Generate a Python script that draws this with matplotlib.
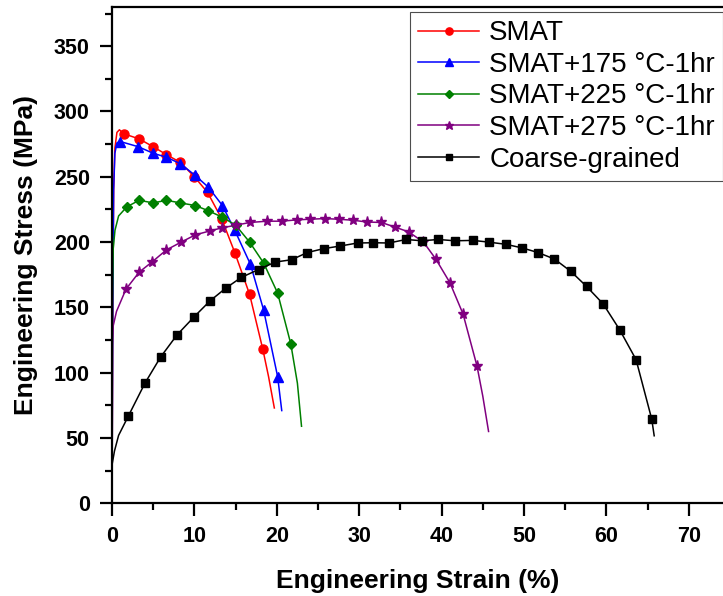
import matplotlib
matplotlib.use("Agg")
import matplotlib.pyplot as plt

plt.rcParams['font.family'] = ['Liberation Sans', 'DejaVu Sans']

# SMAT
smat_strain = [0, 0.1, 0.2, 0.35, 0.6, 0.9, 1.4, 3.3, 5.0, 6.6, 8.3, 10.0, 11.6, 13.3, 14.9, 16.7, 18.3, 19.0, 19.7]
smat_stress = [0, 150, 240, 272, 284, 286, 283, 279, 273, 267, 261, 250, 238, 218, 192, 160, 118, 97, 73]

# SMAT + 175 C
s175_strain = [0, 0.1, 0.2, 0.35, 0.6, 1.0, 3.2, 5.0, 6.6, 8.3, 10.1, 11.7, 13.4, 14.9, 16.8, 18.4, 20.1, 20.6]
s175_stress = [0, 150, 240, 268, 276, 277, 273, 268, 265, 260, 251, 242, 228, 209, 183, 148, 97, 71]

# SMAT + 225 C
s225_strain = [0, 0.05, 0.15, 0.36, 0.8, 1.8, 3.3, 5.0, 6.6, 8.3, 10.1, 11.7, 13.4, 15.0, 16.7, 18.4, 20.1, 21.7, 22.5, 23.0]
s225_stress = [0, 150, 195, 209, 220, 227, 232, 230, 232, 230, 228, 224, 219, 213, 200, 184, 161, 122, 92, 59]

# SMAT + 275 C
s275_strain = [0, 0.03, 0.15, 0.55, 1.7, 3.3, 4.9, 6.6, 8.4, 10.1, 11.9, 13.4, 15.1, 16.7, 18.8, 20.6, 22.4, 24.0,
               25.8, 27.5, 29.3, 30.9, 32.7, 34.3, 36.0, 37.8, 39.3, 41.0, 42.6, 44.3, 45.0, 45.7]
s275_stress = [0, 122, 136, 147, 164, 177, 185, 194, 200, 205.5, 208.6, 211, 213, 215, 216, 216, 217, 217.5,
               218, 217.5, 216.7, 215.4, 215, 211.6, 207.8, 200, 187, 169, 145, 105, 82, 55]

# coarse-grained
cg_strain = [0, 0.02, 0.3, 0.8, 2.0, 4.0, 5.9, 7.9, 10.0, 11.9, 13.8, 15.7, 17.8, 19.8, 21.8, 23.7, 25.7, 27.7,
             29.8, 31.7, 33.6, 35.7, 37.6, 39.6, 41.6, 43.8, 45.7, 47.8, 49.8, 51.7, 53.7, 55.7, 57.6, 59.6,
             61.6, 63.6, 65.5, 65.8]
cg_stress = [0, 30, 40, 52, 67, 92, 112, 129, 143, 155, 164.7, 173, 179, 184.7, 186.5, 192, 195, 197,
             199.3, 199.5, 199.3, 202, 201, 202, 201, 201.3, 200, 198.3, 195.5, 192, 187, 177.5, 166, 152.7,
             133, 110, 64.5, 51.7]

labels = ["SMAT", "SMAT+175 °C-1hr", "SMAT+225 °C-1hr", "SMAT+275 °C-1hr", "Coarse-grained"]

fig = plt.figure(figsize=(7.23, 5.96), dpi=100)
ax = fig.add_axes([112/723, 1-503.3/596, (723-112)/723, (503.3-7)/596])

# (x, y, color, marker, size, first marked point, last marked point)
series = [
    (smat_strain, smat_stress, "#ff0000", "o", 6.5, 6, 16),
    (s175_strain, s175_stress, "#0000ff", "^", 7, 5, 16),
    (s225_strain, s225_stress, "#008000", "D", 5.5, 5, 17),
    (s275_strain, s275_stress, "#800080", "*", 8, 4, 29),
    (cg_strain, cg_stress, "#000000", "s", 6, 4, 36),
]

for (x, y, c, m, ms, i0, i1), lab in zip(series, labels):
    ax.plot(x, y, color=c, lw=1.1, marker=m, ms=ms, mec=c, mfc=c,
            markevery=slice(i0, i1 + 1), label=lab)

ax.set_xlim(0, (723-112)/8.24)
ax.set_ylim(0, 380)
ax.set_xticks(range(0, 71, 10))
ax.set_xticks(range(5, 71, 10), minor=True)
ax.set_yticks(range(0, 351, 50))
ax.set_yticks(range(25, 376, 50), minor=True)

ax.spines['right'].set_visible(False)
for s in ['left', 'bottom', 'top']:
    ax.spines[s].set_linewidth(1.6)
ax.tick_params(which='major', direction='out', length=9, width=1.6, labelsize=15.5, pad=7)
ax.tick_params(which='minor', direction='out', length=5, width=1.6)
for t in ax.get_xticklabels() + ax.get_yticklabels():
    t.set_fontweight('bold')

ax.set_xlabel("Engineering Strain (%)", fontsize=19, fontweight='bold', labelpad=16)
ax.set_ylabel("Engineering Stress (MPa)", fontsize=19, fontweight='bold', labelpad=11)

leg = ax.legend(loc='upper left', bbox_to_anchor=(410/723, 1-12/596), bbox_transform=fig.transFigure,
                fontsize=20, handlelength=2.2, handletextpad=0.35, labelspacing=0.2, borderpad=0.3,
                borderaxespad=0, fancybox=False, framealpha=1, markerscale=0.8)
leg.get_frame().set_edgecolor('0.3')
leg.get_frame().set_linewidth(0.8)

fig.savefig("out.png", dpi=100)
